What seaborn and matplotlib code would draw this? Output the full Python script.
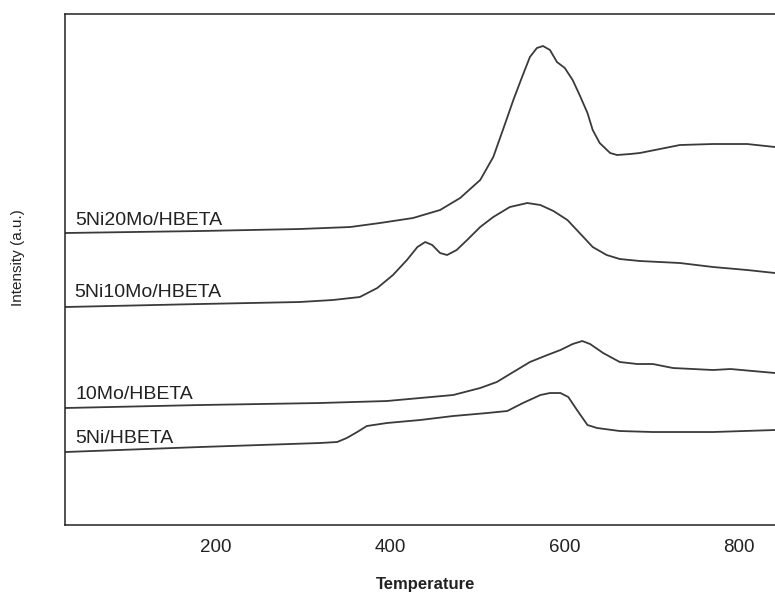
import pandas as pd
import numpy as np
import matplotlib
matplotlib.use("Agg")
import matplotlib.pyplot as plt
import seaborn as sns

# Temperature profiles (intensity in arbitrary units)
t_20mo = [27, 182, 296, 354, 388, 426, 457, 480, 503, 518, 529, 541, 551, 560,
          568, 575, 583, 591, 600, 609, 617, 626, 632, 640, 652, 660, 675, 686,
          709, 732, 770, 809, 841]
i_20mo = [292, 294, 296, 298, 302, 307, 315, 327, 345, 368, 395, 425, 448, 468,
          477, 479, 475, 463, 457, 445, 430, 412, 395, 382, 372, 370, 371, 372,
          376, 380, 381, 381, 378]

t_10mo_ni = [27, 182, 296, 334, 365, 385, 403, 419, 431, 440, 448, 457, 465,
             476, 488, 503, 518, 537, 557, 572, 587, 603, 617, 632, 648, 663,
             686, 732, 770, 809, 841]
i_10mo_ni = [218, 221, 223, 225, 228, 237, 250, 265, 278, 283, 280, 272, 270,
             275, 285, 298, 308, 318, 322, 320, 314, 305, 292, 278, 270, 266,
             264, 262, 258, 255, 252]

t_10mo = [27, 182, 319, 396, 434, 472, 503, 522, 541, 560, 580, 595, 609, 620,
          629, 644, 663, 683, 701, 724, 770, 790, 841]
i_10mo = [117, 120, 122, 124, 127, 130, 137, 143, 153, 163, 170, 175, 181, 184,
          181, 172, 163, 161, 161, 157, 155, 156, 152]

t_5ni = [27, 182, 319, 339, 350, 362, 373, 396, 434, 472, 511, 534, 552, 572,
         583, 595, 604, 614, 626, 637, 663, 701, 770, 841]
i_5ni = [73, 78, 82, 83, 87, 93, 99, 102, 105, 109, 112, 114, 122, 130,
         132, 132, 128, 115, 100, 97, 94, 93, 93, 95]

labels = ["5Ni20Mo/HBETA", "5Ni10Mo/HBETA", "10Mo/HBETA", "5Ni/HBETA"]
label_x = [39, 37, 39, 39]
label_y = [300, 228, 126, 82]

frames = []
for name, t, i in zip(labels, [t_20mo, t_10mo_ni, t_10mo, t_5ni],
                      [i_20mo, i_10mo_ni, i_10mo, i_5ni]):
    frames.append(pd.DataFrame({"Temperature": t, "Intensity": i, "Sample": name}))
df = pd.concat(frames, ignore_index=True)

sns.set_theme(style="white")
plt.rcParams["font.family"] = ["Liberation Sans", "DejaVu Sans"]

fig = plt.figure(figsize=(7.75, 5.96), dpi=100)
ax = fig.add_axes([0.0839, 0.1191, 0.9161, 0.8574])

sns.lineplot(data=df, x="Temperature", y="Intensity", hue="Sample",
             palette=["#3a3a3a"] * 4, linewidth=1.3, legend=False,
             sort=False, estimator=None, ax=ax)
for line in ax.lines:
    line.set_solid_joinstyle("round")

for name, x, y in zip(labels, label_x, label_y):
    ax.text(x, y, name, fontsize=14, color="#222222", va="baseline", ha="left")

ax.set_xlim(27, 841)
ax.set_ylim(0, 511)
ax.set_xticks([200, 400, 600, 800])
ax.set_yticks([])
ax.tick_params(axis="x", direction="in", length=6, width=1, labelsize=13.5,
               colors="#222222", pad=10)

for side in ["left", "bottom", "top"]:
    ax.spines[side].set_color("#222222")
    ax.spines[side].set_linewidth(1.1)
ax.spines["right"].set_visible(False)

ax.set_xlabel("Temperature", fontsize=12, fontweight="bold", color="#222222")
ax.xaxis.set_label_coords(0.508, -0.102)
ax.set_ylabel("Intensity (a.u.)", fontsize=11, color="#222222")
ax.yaxis.set_label_coords(-0.056, 0.524)

fig.savefig("out.png", dpi=100)
